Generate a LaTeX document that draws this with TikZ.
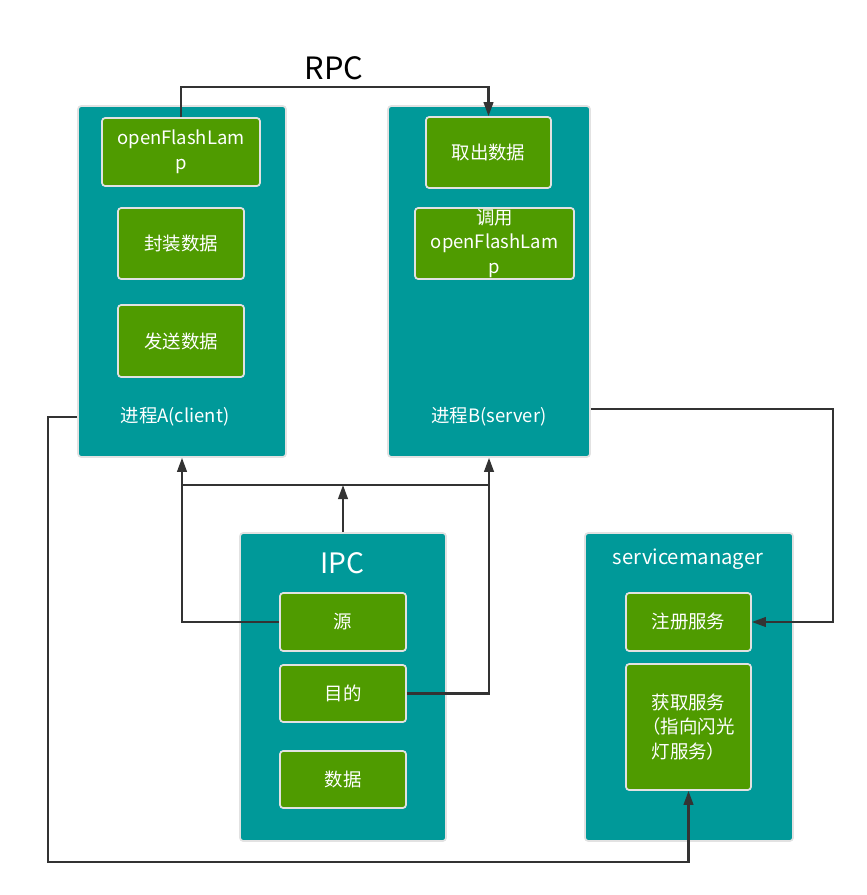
\documentclass[tikz,border=0pt]{standalone}
\usepackage{fontspec}
\setmainfont{Noto Sans CJK SC}
\usetikzlibrary{arrows.meta}
\definecolor{tealbox}{HTML}{009999}
\definecolor{greenbox}{HTML}{4F9B00}
\definecolor{edgegray}{HTML}{E2E2E2}
\definecolor{linedark}{HTML}{333333}
\begin{document}
\begin{tikzpicture}[x=0.02cm, y=-0.02cm, every node/.style={font=\fontsize{10.5}{14}\selectfont}]
  \tikzstyle{outer}=[draw=edgegray,line width=1pt,fill=tealbox,rounded corners=1.8pt,inner sep=0pt]
  \tikzstyle{inner}=[draw=edgegray,line width=1pt,fill=greenbox,rounded corners=1.8pt,align=center,text=white,inner sep=0pt]
  \tikzstyle{arr}=[draw=linedark,line width=1.2pt,-{Triangle[length=8pt,width=5.5pt]}]
  \tikzstyle{wire}=[draw=linedark,line width=1.2pt]
  \useasboundingbox (0,0) rectangle (866,895);
  % process boxes
  \node[outer,minimum width=4.16cm,minimum height=7.02cm] (A) at (182,281.5) {};
  \node[outer,minimum width=4.04cm,minimum height=7.02cm] (B) at (489,281.5) {};
  \node[outer,minimum width=4.12cm,minimum height=6.16cm] (ipc) at (343,687) {};
  \node[outer,minimum width=4.16cm,minimum height=6.16cm] (sm) at (689,687) {};
  % steps
  \node[inner,minimum width=3.16cm,minimum height=1.36cm] (flash) at (181,152) {openFlashLam\\p};
  \node[inner,minimum width=2.52cm,minimum height=1.42cm] (pack) at (181,243.5) {封装数据};
  \node[inner,minimum width=2.52cm,minimum height=1.44cm] (send) at (181,341) {发送数据};
  \node[inner,minimum width=2.5cm,minimum height=1.42cm] (fetch) at (488.5,152.5) {取出数据};
  \node[inner,minimum width=3.18cm,minimum height=1.42cm] (call) at (494.5,243.5) {调用\\openFlashLam\\p};
  \node[inner,minimum width=2.52cm,minimum height=1.16cm] (src) at (343,622) {源};
  \node[inner,minimum width=2.52cm,minimum height=1.14cm] (dst) at (343,693.5) {目的};
  \node[inner,minimum width=2.52cm,minimum height=1.14cm] (data) at (343,779.5) {数据};
  \node[inner,minimum width=2.5cm,minimum height=1.16cm] (reg) at (688.5,622) {注册服务};
  \node[inner,minimum width=2.5cm,minimum height=2.52cm] (get) at (688.5,727) {获取服务\\（指向闪光\\灯服务）};
  % titles
  \node[text=white] (labelA) at (175,417) {进程A(client)};
  \node[text=white] (labelB) at (489,417) {进程B(server)};
  \node[text=white,font=\fontsize{16}{18}\selectfont] (ipcT) at (342,563) {IPC};
  \node[text=white,font=\fontsize{11.5}{14}\selectfont] (smT) at (688,559) {servicemanager};
  \node[font=\fontsize{17.5}{20}\selectfont] (rpc) at (334,68) {RPC};
  % connectors
  \coordinate (rpcY) at (0,87);
  \coordinate (bus) at (0,485);
  \coordinate (loopL) at (48,862);
  \coordinate (regR) at (833,409);
  \draw[arr] (flash.north) -- (flash.north |- rpcY) -| (fetch.north);
  \draw[arr] (A.west |- labelA) -| (loopL) -| (get.south);
  \draw[arr] (B.east |- regR) -- (regR) |- (reg.east);
  \draw[arr] (src.west) -| (A.south);
  \draw[arr] (dst.east) -| (B.south);
  \draw[wire] (A.south |- bus) -- (B.south |- bus);
  \draw[arr] (ipc.north) -- (ipc.north |- bus);
\end{tikzpicture}
\end{document}
